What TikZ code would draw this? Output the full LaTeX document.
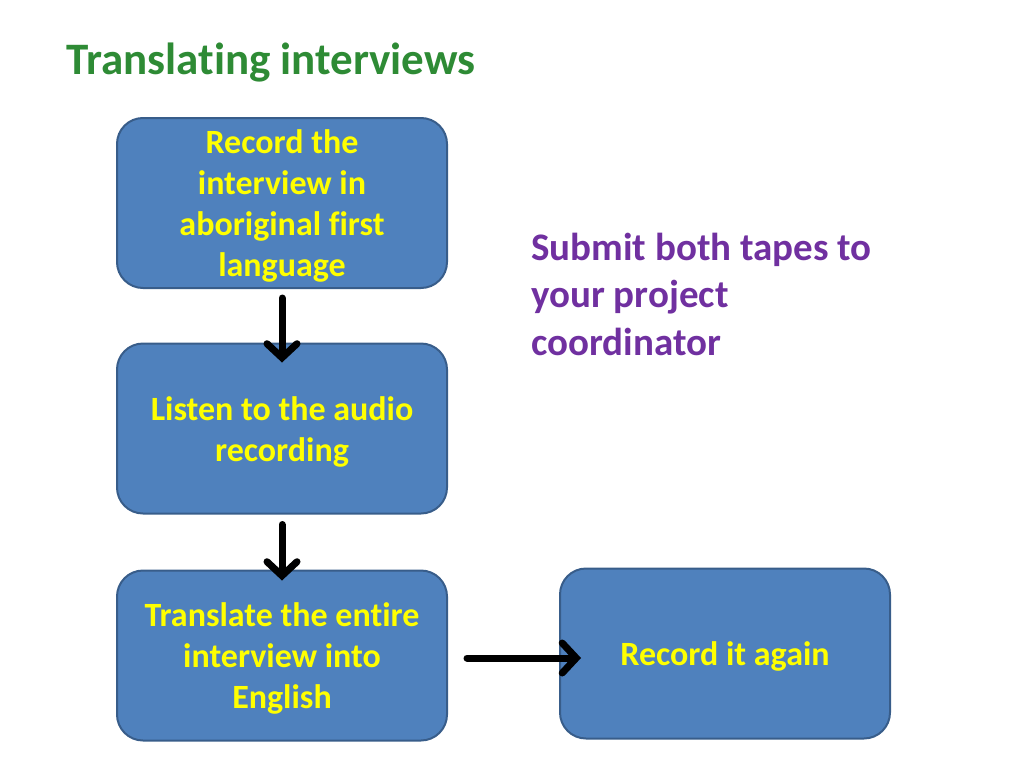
\documentclass[tikz,border=0pt]{standalone}
\usepackage{fontspec}
\setmainfont{Carlito}[Ligatures={NoCommon}]
\usetikzlibrary{arrows.meta}
\definecolor{boxfill}{HTML}{4F81BD}
\definecolor{boxdraw}{HTML}{385D8A}
\definecolor{titlegreen}{HTML}{2E8B35}
\definecolor{notepurple}{HTML}{7030A0}
\definecolor{textyellow}{HTML}{FFFF00}
\tikzset{
  stepbox/.style={draw=boxdraw, line width=2pt, fill=boxfill, rounded corners=26pt,
    minimum width=330pt, minimum height=170pt, inner sep=0pt},
  steptext/.style={align=center, text=textyellow,
    font=\fontsize{34}{41}\selectfont\bfseries, inner sep=0pt},
  flow/.style={line width=7pt, line cap=round, line join=round,
    -{Straight Barb[length=14pt,width=30pt,line cap=round]}}
}
\begin{document}
\begin{tikzpicture}[x=1pt,y=-1pt]
\useasboundingbox (0,0) rectangle (1024,768);
\node[anchor=west, text=titlegreen, font=\fontsize{45}{54}\selectfont\bfseries, inner sep=0pt] (title) at (66,63) {Translating interviews};
\node[stepbox] (b1) at (282,203) {};
\node[stepbox] (b2) at (282,428.5) {};
\node[stepbox] (b3) at (282,655.5) {};
\node[stepbox] (b4) at (725,653.5) {};
\node[steptext] (t1) at ([yshift=-3pt]b1.center) {Record the\\interview in\\aboriginal first\\language};
\node[steptext] (t2) at ([yshift=-3pt]b2.center) {Listen to the audio\\recording};
\node[steptext] (t3) at ([yshift=-3pt]b3.center) {Translate the entire\\interview into\\English};
\node[steptext] (t4) at ([yshift=-3pt]b4.center) {Record it again};
\node[anchor=west, align=left, text=notepurple, font=\fontsize{39}{47.5}\selectfont\bfseries, inner sep=0pt] (note) at (531,294) {Submit both tapes to\\your project\\coordinator};
\draw[flow, shorten <=9pt, shorten >=-20pt] (b1.south) -- (b2.north);
\draw[flow, shorten <=10pt, shorten >=-11pt] (b2.south) -- (b3.north);
\draw[flow, shorten <=19pt, shorten >=-22pt] ([yshift=-2.5pt]b3.east) -- ([yshift=-4.5pt]b4.west);
\end{tikzpicture}
\end{document}
